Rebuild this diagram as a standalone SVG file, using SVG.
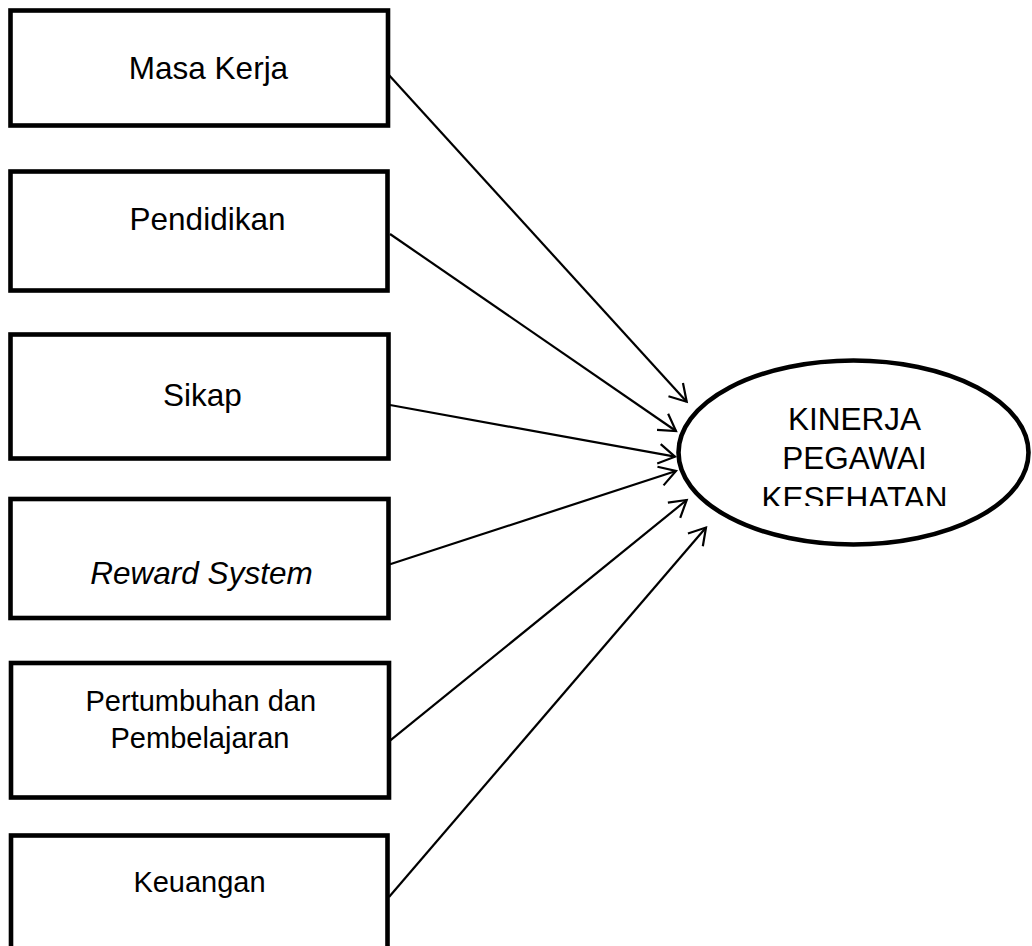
<svg xmlns="http://www.w3.org/2000/svg" width="1032" height="946" viewBox="0 0 1032 946">
<style>
.box{fill:#fff;stroke:#000;stroke-width:4.6}
.ell{fill:#fff;stroke:#000;stroke-width:4.6}
.t{font-family:"Liberation Sans",Arial,sans-serif;font-size:31.5px;fill:#000;text-anchor:middle}
.s{font-size:29px}
.conn{stroke:#000;stroke-width:2.2;fill:none;marker-end:url(#arr)}
</style>
<defs>
<marker id="arr" markerUnits="userSpaceOnUse" markerWidth="40" markerHeight="40" viewBox="-20 -20 40 40" refX="0" refY="0" orient="auto" overflow="visible">
<path d="M-16.3,-9.8 L0,0 L-16.3,9.8" fill="none" stroke="#000" stroke-width="2.2" stroke-linejoin="miter"/>
</marker>
<clipPath id="eclip"><rect x="680" y="360" width="350" height="146"/></clipPath>
</defs>
<rect width="1032" height="946" fill="#fff"/>
<g id="n1"><rect class="box" x="10.5" y="10.5" width="377.5" height="115"/><text class="t" x="208.5" y="79">Masa Kerja</text></g>
<g id="n2"><rect class="box" x="10.5" y="171.5" width="377" height="119"/><text class="t" x="207.5" y="230">Pendidikan</text></g>
<g id="n3"><rect class="box" x="10.5" y="334.5" width="378" height="124"/><text class="t" x="202.5" y="406">Sikap</text></g>
<g id="n4"><rect class="box" x="10.5" y="499" width="378" height="119"/><text class="t" x="201.5" y="584" font-style="italic">Reward System</text></g>
<g id="n5"><rect class="box" x="11" y="663" width="378" height="134.5"/><text class="t s" x="200.8" y="710.7">Pertumbuhan dan</text><text class="t s" x="200" y="748.3">Pembelajaran</text></g>
<g id="n6"><rect class="box" x="11" y="835.5" width="376.5" height="140"/><text class="t s" x="199.5" y="891.7">Keuangan</text></g>
<g id="connectors">
<line class="conn" x1="388" y1="74" x2="686.7" y2="401.7"/>
<line class="conn" x1="390" y1="234" x2="676" y2="431"/>
<line class="conn" x1="390" y1="405" x2="675" y2="456.7"/>
<line class="conn" x1="390" y1="564.3" x2="676" y2="471"/>
<line class="conn" x1="390" y1="740.7" x2="686.7" y2="500"/>
<line class="conn" x1="389" y1="897" x2="706" y2="527.5"/>
</g>
<g id="target"><ellipse class="ell" cx="853.5" cy="452.5" rx="175" ry="92"/>
<g clip-path="url(#eclip)"><text class="t" x="854.5" y="430">KINERJA</text><text class="t" x="854.5" y="469.3">PEGAWAI</text><text class="t" x="854.5" y="508.6">KESEHATAN</text></g></g>
</svg>
